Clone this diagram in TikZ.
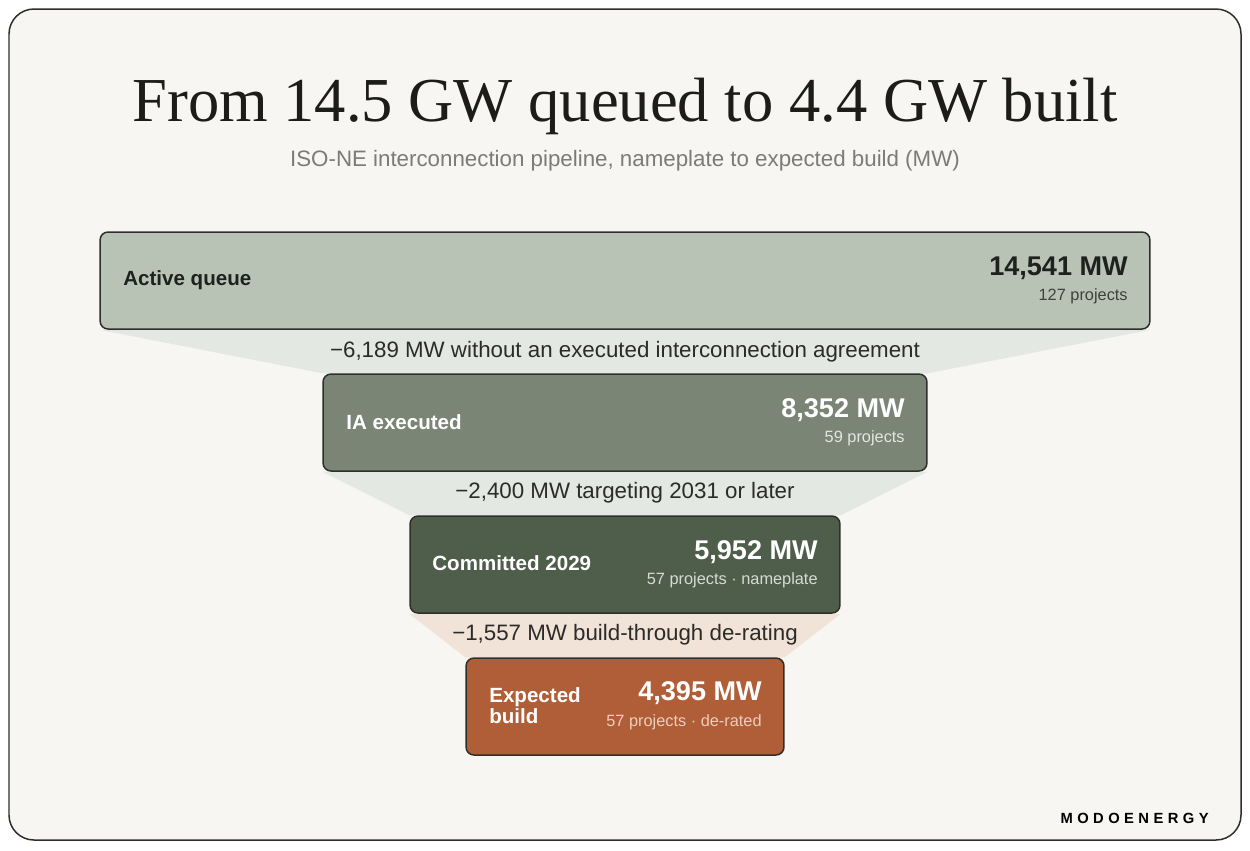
\documentclass[tikz,border=0pt]{standalone}
\usepackage{fontspec}
\setmainfont{Liberation Serif}
\setsansfont{Liberation Sans}
\usetikzlibrary{backgrounds}
\definecolor{bg}{HTML}{F7F6F2}
\definecolor{frame}{HTML}{2E2F2C}
\definecolor{titlec}{HTML}{1C1D1A}
\definecolor{subc}{HTML}{7B7B77}
\definecolor{deltac}{HTML}{2B2B28}
\definecolor{cA}{HTML}{B8C3B6}
\definecolor{cB}{HTML}{7A8576}
\definecolor{cC}{HTML}{4F5D4B}
\definecolor{cD}{HTML}{B05E37}
\definecolor{tg}{HTML}{E3E8E2}
\definecolor{tp}{HTML}{F1E3D8}
\definecolor{darktext}{HTML}{1E211D}
\definecolor{subA}{HTML}{3D423B}
\definecolor{subB}{HTML}{E2E6DF}
\definecolor{subC}{HTML}{D6DCD3}
\definecolor{subD}{HTML}{EDCDBB}
\begin{document}
\begin{tikzpicture}[x=0.02cm,y=-0.02cm,
  stage/.style={draw=frame, line width=0.85pt, rounded corners=4.5pt, inner sep=0pt, minimum height=1.94cm},
  lbl/.style={inner sep=0pt, font=\sffamily\bfseries\fontsize{11.7pt}{13pt}\selectfont, align=left},
  val/.style={inner sep=0pt, anchor=base east, font=\sffamily\bfseries\fontsize{15.4pt}{17pt}\selectfont},
  subv/.style={inner sep=0pt, anchor=base east, font=\sffamily\fontsize{9.3pt}{11pt}\selectfont},
  delta/.style={inner sep=0pt, anchor=base, text=deltac, font=\sffamily\fontsize{12.7pt}{15pt}\selectfont},
  trap/.style={fill=tg}]
\useasboundingbox (0,0) rectangle (1250,850);
\begin{pgfonlayer}{background}
\fill[white] (0,0) rectangle (1250,850);
\draw[fill=bg, draw=frame, line width=0.85pt, rounded corners=0.5cm] (9,9) rectangle (1241,840);
\end{pgfonlayer}

\node[inner sep=0pt, anchor=base, text=titlec, font=\fontsize{35.6pt}{40pt}\selectfont] (title) at (625,121.7) {From 14.5 GW queued to 4.4 GW built};
\node[inner sep=0pt, anchor=base, text=subc, font=\sffamily\fontsize{12.7pt}{15pt}\selectfont] (subtitle) at (625,166) {ISO-NE interconnection pipeline, nameplate to expected build (MW)};

\node[stage, fill=cA, minimum width=21cm] (q) at (625,280.5) {};
\node[stage, fill=cB, minimum width=12.08cm] (ia) at (625,422.5) {};
\node[stage, fill=cC, minimum width=8.6cm] (cm) at (625,564.5) {};
\node[stage, fill=cD, minimum width=6.36cm] (eb) at (625,706.5) {};

\begin{pgfonlayer}{background}
\fill[trap] (q.south west) -- (q.south east) -- (ia.north east) -- (ia.north west) -- cycle;
\fill[trap] (ia.south west) -- (ia.south east) -- (cm.north east) -- (cm.north west) -- cycle;
\fill[fill=tp] (cm.south west) -- (cm.south east) -- (eb.north east) -- (eb.north west) -- cycle;
\end{pgfonlayer}

\node[lbl, anchor=west, text=darktext] (qL) at (123,280) {Active queue};
\node[val, text=darktext] (qV) at (1128,275) {14,541 MW};
\node[subv, text=subA] (qS) at (1128,300) {127 projects};

\node[lbl, anchor=west, text=white] (iaL) at (346,422) {IA executed};
\node[val, text=white] (iaV) at (905,417) {8,352 MW};
\node[subv, text=subB] (iaS) at (905,442) {59 projects};

\node[lbl, anchor=west, text=white] (cmL) at (432,563) {Committed 2029};
\node[val, text=white] (cmV) at (818,559) {5,952 MW};
\node[subv, text=subC] (cmS) at (818,584) {57 projects · nameplate};

\node[lbl, anchor=west, text=white, font=\sffamily\bfseries\fontsize{11.7pt}{12pt}\selectfont] (ebL) at (489,705.5) {Expected\\build};
\node[val, text=white] (ebV) at (762,700) {4,395 MW};
\node[subv, text=subD] (ebS) at (762,726) {57 projects · de-rated};

\node[delta] (d1) at (625,357) {−6,189 MW without an executed interconnection agreement};
\node[delta] (d2) at (625,498.5) {−2,400 MW targeting 2031 or later};
\node[delta] (d3) at (625,640) {−1,557 MW build-through de-rating};

\node[inner sep=0pt, anchor=base east, text=black, font=\sffamily\bfseries\fontsize{8.4pt}{10pt}\selectfont\addfontfeature{LetterSpace=30}] (logo) at (1209,823.3) {MODOENERGY};
\end{tikzpicture}
\end{document}
